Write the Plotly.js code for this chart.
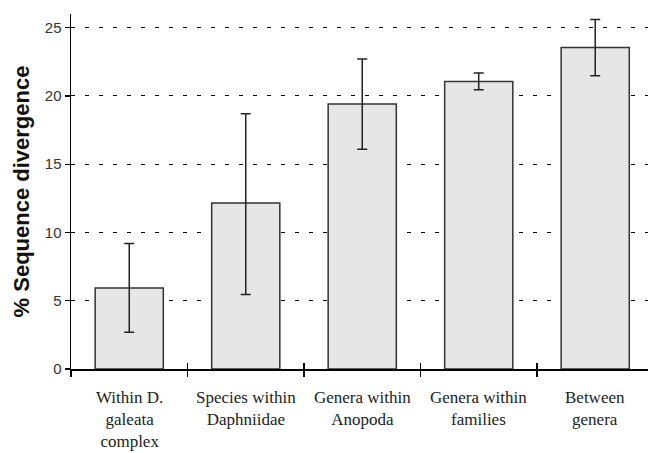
<!DOCTYPE html>
<html>
<head>
<meta charset="utf-8">
<script src="https://cdn.plot.ly/plotly-3.0.1.min.js"></script>
<style>
  html, body { margin: 0; padding: 0; background: #fff; }
  #chart { width: 648px; height: 453px; }
</style>
</head>
<body>
<div id="chart"></div>
<script>
// Mean pairwise sequence divergence (%) by taxonomic level
const categories = [
  'Within D. galeata complex',
  'Species within Daphniidae',
  'Genera within Anopoda',
  'Genera within families',
  'Between genera'
];
const categoryLabels = [
  'Within D.<br>galeata<br>complex',
  'Species within<br>Daphniidae',
  'Genera within<br>Anopoda',
  'Genera within<br>families',
  'Between<br>genera'
];
const divergence = [5.93, 12.15, 19.4, 21.05, 23.55];
const errUp = [3.27, 6.55, 3.3, 0.62, 2.05];
const errDown = [3.23, 6.7, 3.3, 0.6, 2.08];
const yTicks = [0, 5, 10, 15, 20, 25];

const xRange = [-0.5, 4.453];
const serif = 'Liberation Serif';
const sans = 'Liberation Sans';

const bars = {
  type: 'bar',
  x: categories,
  y: divergence,
  width: 0.585,
  marker: { color: '#e6e6e6', line: { color: '#333333', width: 1.5 } },
  error_y: {
    type: 'data', symmetric: false,
    array: errUp, arrayminus: errDown,
    color: '#222222', thickness: 1.5, width: 5
  },
  hoverinfo: 'skip'
};

// invisible companion trace so the overlay axis can draw the inner half of the boundary ticks
const tickCarrier = {
  type: 'bar', x: categories, y: divergence.map(() => 0),
  xaxis: 'x2', yaxis: 'y', marker: { color: 'rgba(0,0,0,0)' },
  hoverinfo: 'skip', showlegend: false
};

// serif category captions under each bar, placed on the category axis
const captions = categories.map((c, i) => ({
  x: c, xref: 'x', y: 0, yref: 'paper',
  yanchor: 'top', xanchor: 'center', yshift: -17,
  showarrow: false, align: 'center',
  text: categoryLabels[i],
  font: { family: serif, size: 17, color: '#222' }
}));

const layout = {
  width: 648, height: 453,
  margin: { l: 71, r: 0, t: 14, b: 84 },
  paper_bgcolor: '#ffffff', plot_bgcolor: '#ffffff',
  showlegend: false,
  bargap: 0.415,
  annotations: captions,
  xaxis: {
    type: 'category',
    range: xRange,
    tickson: 'boundaries',
    ticks: 'outside', ticklen: 6, tickwidth: 1.2, tickcolor: '#000',
    showline: true, linecolor: '#000', linewidth: 1.5,
    showgrid: false, zeroline: false,
    showticklabels: false
  },
  xaxis2: {
    type: 'category', overlaying: 'x', anchor: 'y',
    range: xRange,
    tickson: 'boundaries',
    ticks: 'inside', ticklen: 6, tickwidth: 1.2, tickcolor: '#000',
    showticklabels: false, showline: false, showgrid: false, zeroline: false
  },
  yaxis: {
    range: [0, 26],
    tickvals: yTicks,
    ticktext: yTicks.map(String),
    ticks: 'outside', ticklen: 5, tickwidth: 1.2, tickcolor: '#000',
    showline: true, linecolor: '#000', linewidth: 1.5,
    showgrid: true, gridcolor: '#000', gridwidth: 1, griddash: '4px,10px',
    zeroline: false,
    tickfont: { family: sans, size: 15, color: '#333' },
    title: {
      text: '<b>% Sequence divergence</b>',
      font: { family: sans, size: 22, color: '#111' },
      standoff: 9
    }
  }
};

Plotly.newPlot('chart', [bars, tickCarrier], layout, { displayModeBar: false, staticPlot: true });
</script>
</body>
</html>
